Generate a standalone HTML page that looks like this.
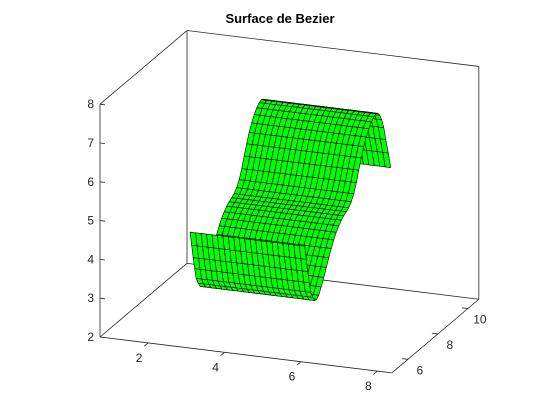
<!DOCTYPE html>
<html><head><meta charset="utf-8"><style>
html,body{margin:0;padding:0;background:#fff;}
svg{display:block;font-family:"Liberation Sans",sans-serif;}
</style></head><body>
<svg id="chart" width="560" height="420" viewBox="0 0 560 420">
<rect width="560" height="420" fill="#fff"/>
<text x="280" y="23" text-anchor="middle" font-size="13" font-weight="bold" fill="#000">Surface de Bezier</text>
<g id="box"></g>
<g id="surf"></g>
<g id="ticks"></g>
</svg>
<script>
// Profile of the surface (extruded along x)
const profileY = [4.93,5.03,5.13,5.23,5.33,5.46,5.60,5.73,5.86,6.03,6.20,6.37,6.53,6.70,6.86,7.03,7.20,7.37,7.53,7.70,7.86,8.03,8.20,8.37,8.53,8.70,8.86,9.03,9.20,9.37,9.53,9.67,9.80,9.93,10.06,10.20,10.33,10.50,10.66];
const profileZ = [4.99,4.62,4.27,3.95,3.67,3.50,3.37,3.36,3.42,3.58,3.77,3.97,4.17,4.35,4.52,4.66,4.77,4.86,4.92,4.97,5.02,5.12,5.27,5.50,5.77,6.03,6.27,6.46,6.62,6.74,6.82,6.85,6.82,6.73,6.57,6.32,5.97,5.57,5.14];
const surfXRange = [3.1, 6.1];
const surfXCount = 21;
const xTicks = [2,4,6,8];
const yTicks = [6,8,10];
const zTicks = [2,3,4,5,6,7,8];
const xLim = [0.74, 8.38], yLim = [4.93, 10.73], zLim = [2, 8];

const NS = "http://www.w3.org/2000/svg";
function P(x,y,z){
  return [100 + (x-xLim[0])*38.2 + (y-yLim[0])*15,
          337 + (x-xLim[0])*4.7 - (y-yLim[0])*12.7 - (z-zLim[0])*38.8];
}
function line(g,a,b,name,w){
  const l=document.createElementNS(NS,'line');
  l.setAttribute('x1',a[0]);l.setAttribute('y1',a[1]);l.setAttribute('x2',b[0]);l.setAttribute('y2',b[1]);
  l.setAttribute('stroke','#262626');l.setAttribute('stroke-width',w||0.8);
  
  
  g.appendChild(l);
}
const box=document.getElementById('box');
const [x0,x1]=xLim,[y0,y1]=yLim,[z0,z1]=zLim;
line(box,P(x0,y0,z0),P(x0,y0,z1),'z-axis-line');
line(box,P(x0,y0,z1),P(x0,y1,z1),'box-edge');
line(box,P(x0,y1,z1),P(x1,y1,z1),'box-edge');
line(box,P(x1,y1,z1),P(x1,y1,z0),'box-edge');
line(box,P(x0,y1,z0),P(x0,y1,z1),'box-edge');
line(box,P(x0,y1,z0),P(x1,y1,z0),'box-edge');
line(box,P(x0,y0,z0),P(x0,y1,z0),'box-edge');
line(box,P(x0,y0,z0),P(x1,y0,z0),'x-axis-line');
line(box,P(x1,y0,z0),P(x1,y1,z0),'y-axis-line');

const quads=[];
for(let i=0;i<surfXCount;i++){
  const xa=surfXRange[0]+(surfXRange[1]-surfXRange[0])*i/surfXCount;
  const xb=surfXRange[0]+(surfXRange[1]-surfXRange[0])*(i+1)/surfXCount;
  for(let j=0;j<profileY.length-1;j++){
    const ya=profileY[j],yb=profileY[j+1],za=profileZ[j],zb=profileZ[j+1];
    const pts=[P(xa,ya,za),P(xb,ya,za),P(xb,yb,zb),P(xa,yb,zb)];
    const nx=((xa+xb)/2-x0)/(x1-x0), ny=((ya+yb)/2-y0)/(y1-y0), nz=((za+zb)/2-z0)/(z1-z0);
    const d=0.87*(0.29*nx-0.96*ny)+0.5*nz;
    quads.push({pts,d});
  }
}
quads.sort((a,b)=>a.d-b.d);
const surf=document.getElementById('surf');
quads.forEach(q=>{
  const p=document.createElementNS(NS,'polygon');
  p.setAttribute('points',q.pts.map(v=>v[0].toFixed(2)+','+v[1].toFixed(2)).join(' '));
  p.setAttribute('fill','#00ff00');p.setAttribute('stroke','#000');p.setAttribute('stroke-width','0.6');
  p.setAttribute('stroke-linejoin','round');
  
  
  surf.appendChild(p);
});

const tg=document.getElementById('ticks');
function text(x,y,s,anchor,name){
  const t=document.createElementNS(NS,'text');
  t.setAttribute('x',x);t.setAttribute('y',y);t.setAttribute('font-size','12');
  t.setAttribute('fill','#262626');t.setAttribute('text-anchor',anchor);
  t.textContent=s;
  
  
  tg.appendChild(t);
}
zTicks.forEach(v=>{
  const a=P(x0,y0,v);
  line(tg,a,[a[0]+5,a[1]+0.6],'z-tick');
  text(a[0]-6,a[1]+4,String(v),'end','z-tick-label');
});
xTicks.forEach(v=>{
  const a=P(v,y0,z0);
  line(tg,a,[a[0]-4,a[1]+3.4],'x-tick');
  text(a[0]-9,a[1]+19,String(v),'middle','x-tick-label');
});
yTicks.forEach(v=>{
  const a=P(x1,v,z0);
  line(tg,a,[a[0]-6,a[1]-0.7],'y-tick');
  text(a[0]+12,a[1]+15,String(v),'middle','y-tick-label');
});
</script>
</body></html>
